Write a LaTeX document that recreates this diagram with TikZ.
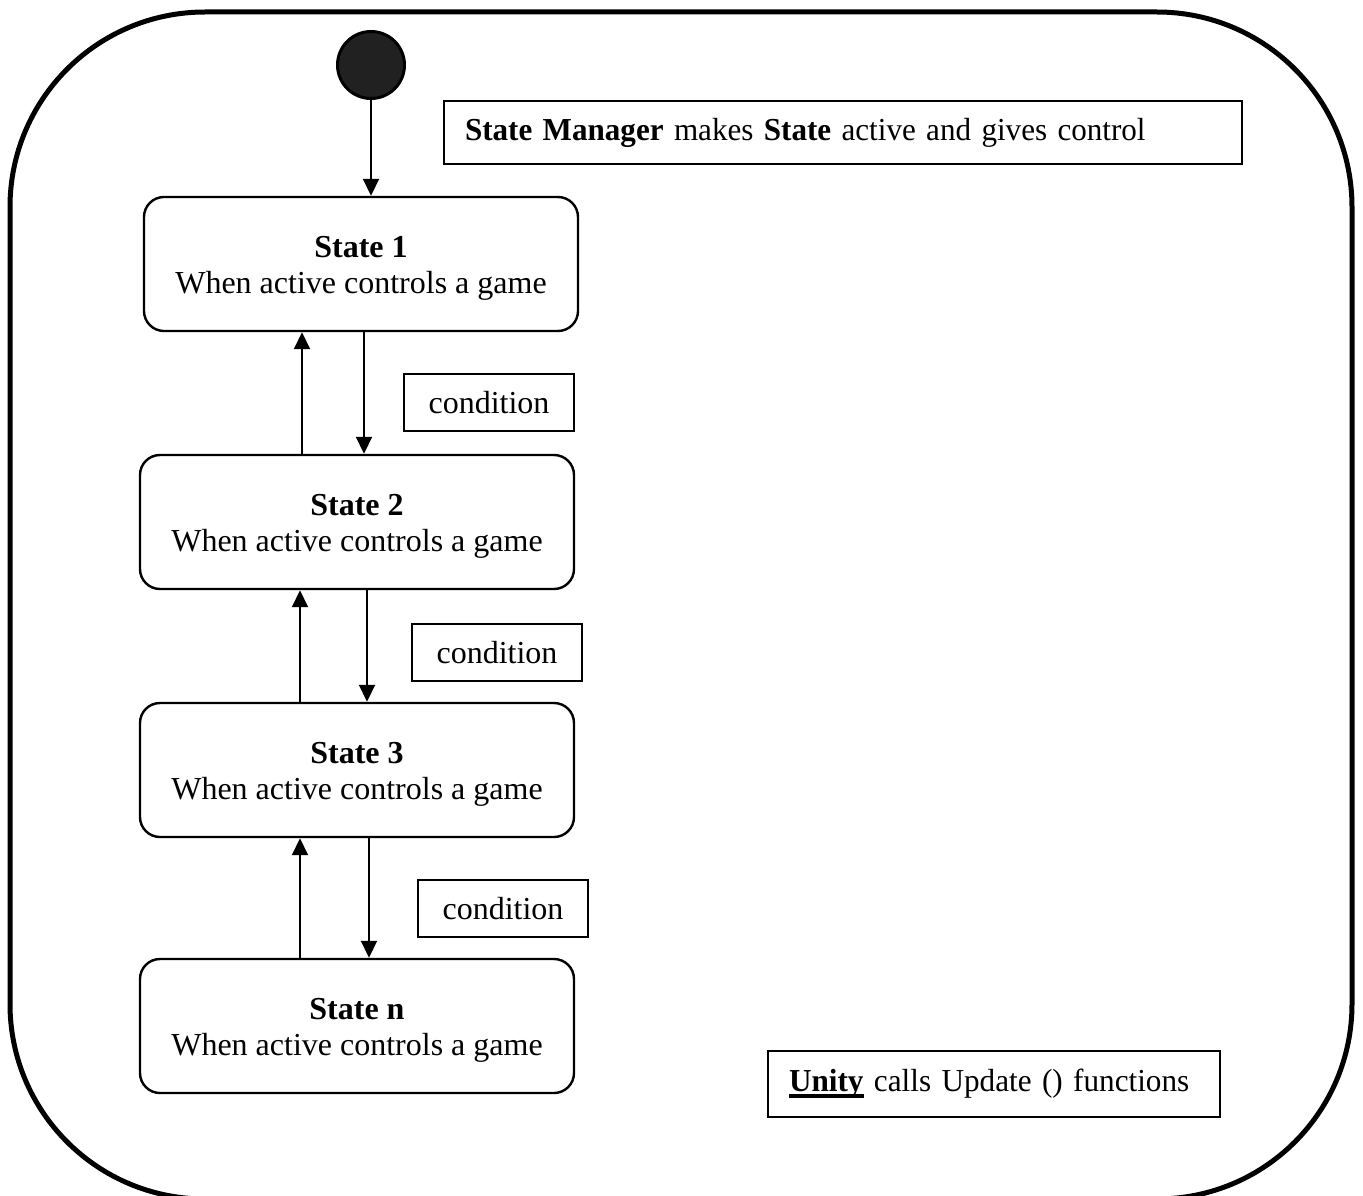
\documentclass[tikz,border=0pt]{standalone}
\usepackage{fontspec}
\usepackage{graphicx}
\setmainfont{Liberation Serif}
\usetikzlibrary{arrows.meta}

% heavy underline for emphasised words
\newcommand\heavyul[1]{\setbox0\hbox{#1}\rlap{\rule[-6pt]{\wd0}{3.5pt}}\box0\relax}

\begin{document}
\begin{tikzpicture}[x=1pt,y=-1pt,
  txt/.style={font=\fontsize{32}{36}\selectfont},
  statebox/.style={txt, draw, line width=2.4pt, rounded corners=20pt,
    minimum width=434pt, minimum height=134pt, align=center, inner sep=0pt},
  condbox/.style={txt, draw, line width=1.3pt, minimum width=170pt,
    minimum height=57pt, inner sep=0pt},
  notebox/.style={txt, draw, line width=1.3pt, inner xsep=21pt, inner ysep=0pt,
    align=left},
  arr/.style={line width=1.8pt, -{Triangle[length=17pt,width=16pt]}},
]
\useasboundingbox (0,0) rectangle (1363,1196);
\clip (0,0) rectangle (1363,1196);

% outer frame
\draw[line width=5pt, rounded corners=195pt] (10,12) rectangle (1352,1199);

% initial state
\node[circle, draw, line width=3pt, fill=black!87, minimum size=67pt, inner sep=0pt]
  (init) at (371,65) {};

% states
\newcommand\sttext[1]{\rule{0pt}{29pt}\textbf{#1}\\When active controls a game}
\node[statebox] (s1) at (361,264) {\sttext{State 1}};
\node[statebox] (s2) at (357,522) {\sttext{State 2}};
\node[statebox] (s3) at (357,770) {\sttext{State 3}};
\node[statebox] (sn) at (357,1026) {\sttext{State n}};

% condition labels
\node[condbox] (c1) at (489,402.5) {condition};
\node[condbox] (c2) at (497,652.5) {condition};
\node[condbox] (c3) at (503,908.5) {condition};

% notes
\node[notebox, text width=756pt, minimum height=63pt] (mgr) at (843,132.5)
  {\scalebox{0.972}[1]{\textbf{State Manager} makes \textbf{State} active and gives control}};
\node[notebox, text width=410pt, minimum height=66pt] (unity) at (994,1084)
  {\scalebox{0.975}[1]{\heavyul{\textbf{Unity}} calls Update () functions}};

% columns of the transition arrows
\coordinate (u1) at (302,0);
\coordinate (d1) at (364,0);
\coordinate (u2) at (300,0);
\coordinate (d2) at (367,0);
\coordinate (u3) at (300,0);
\coordinate (d3) at (369,0);

% transitions
\draw[arr] (init.south) -- (init.south |- s1.north);
\draw[arr] (s2.north -| u1) -- (s1.south -| u1);
\draw[arr] (s1.south -| d1) -- (s2.north -| d1);
\draw[arr] (s3.north -| u2) -- (s2.south -| u2);
\draw[arr] (s2.south -| d2) -- (s3.north -| d2);
\draw[arr] (sn.north -| u3) -- (s3.south -| u3);
\draw[arr] (s3.south -| d3) -- (sn.north -| d3);
\end{tikzpicture}
\end{document}
